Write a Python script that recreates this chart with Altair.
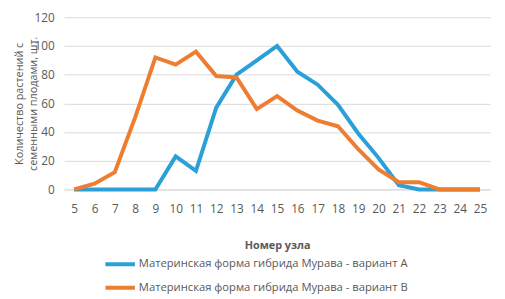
import altair as alt
import pandas as pd

nodes = list(range(5, 26))
series_a = [0, 0, 0, 0, 0, 23, 13, 57, 80, 90, 100, 82, 73, 59, 39, 22, 3, 0, 0, 0, 0]
series_b = [0, 4, 12, 50, 92, 87, 96, 79, 78, 56, 65, 55, 48, 44, 28, 14, 5, 5, 0, 0, 0]
name_a = "Материнская форма гибрида Мурава - вариант А"
name_b = "Материнская форма гибрида Мурава - вариант В"
y_ticks = [0, 20, 40, 60, 80, 100, 120]

rows = []
for n, a, b in zip(nodes, series_a, series_b):
    rows.append({"node": n, "value": a, "series": name_a})
    rows.append({"node": n, "value": b, "series": name_b})
df = pd.DataFrame(rows)

FONT = "Open Sans"
GRAY = "#595959"

chart = alt.Chart(df).mark_line(strokeWidth=4).encode(
    x=alt.X("node:O", scale=alt.Scale(padding=0.5),
            axis=alt.Axis(title="Номер узла", labelAngle=0, ticks=False,
                          domainColor="#d9d9d9", labelPadding=14,
                          titlePadding=26, titleFontWeight="bold", titleFontSize=11)),
    y=alt.Y("value:Q", scale=alt.Scale(domain=[0, 120]),
            axis=alt.Axis(values=y_ticks, title=["Количество растений с", "семенными плодами, шт."],
                          domain=False, ticks=False, labelPadding=10,
                          gridColor="#d9d9d9", titlePadding=-5, titleFontWeight="normal",
                          titleFontSize=11, titleLineHeight=15)),
    color=alt.Color("series:N", scale=alt.Scale(domain=[name_a, name_b], range=["#2a9fd8", "#ed7d31"]),
                    legend=alt.Legend(title=None, orient="none", legendX=40, legendY=242,
                                      direction="vertical", symbolType="stroke",
                                      symbolSize=900, symbolStrokeWidth=4, rowPadding=6,
                                      clipHeight=18, labelOffset=2, labelLimit=400)),
).properties(
    width=433, height=175,
    autosize=alt.AutoSizeParams(type="none"),
    padding={"left": 57, "top": 7, "right": 7, "bottom": 110},
).configure_view(stroke=None).configure_axis(
    labelFont=FONT, titleFont=FONT, labelColor=GRAY, titleColor=GRAY,
    labelFontSize=12,
).configure_legend(labelFont=FONT, labelColor=GRAY, labelFontSize=11.4)

chart.save("out.html", embed_options={"renderer": "svg", "actions": False})
